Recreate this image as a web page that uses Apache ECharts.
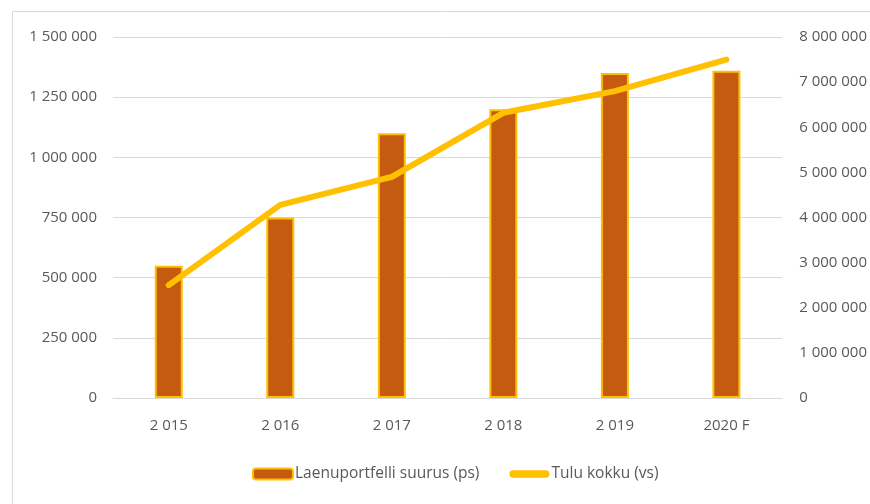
<!DOCTYPE html>
<html>
<head>
<meta charset="utf-8">
<script src="https://cdn.jsdelivr.net/npm/echarts@6/dist/echarts.min.js"></script>
<style>
  html, body { margin: 0; padding: 0; background: #fff; }
  #chart { width: 870px; height: 504px; }
</style>
</head>
<body>
<div id="chart"></div>
<script>
const years = ['2 015', '2 016', '2 017', '2 018', '2 019', '2020 F'];
const portfolio = [550000, 750000, 1100000, 1200000, 1350000, 1360000];
const income = [2500000, 4280000, 4900000, 6320000, 6800000, 7500000];

const fmt = v => String(v).replace(/\B(?=(\d{3})+(?!\d))/g, ' ');
const font = 'Open Sans, Noto Sans, sans-serif';

const chart = echarts.init(document.getElementById('chart'));
chart.setOption({
    animation: false,
    textStyle: {fontFamily: font},
    graphic: [{
        type: 'rect',
        shape: {x: 12.5, y: 11.5, width: 900, height: 600},
        style: {fill: 'none', stroke: '#d9d9d9', lineWidth: 1}
    }],
    grid: {left: 113, right: 87, top: 37, bottom: 106},
    legend: {
        left: 247,
        bottom: 17,
        itemGap: 30,
        itemWidth: 40,
        itemHeight: 11,
        textStyle: {color: '#595959', fontSize: 15.5, fontFamily: font, padding: [0, 0, 0, -3]},
        data: [
            {name: 'Laenuportfelli suurus (ps)'},
            {
                name: 'Tulu kokku (vs)',
                icon: 'path://M4,0 L40,0 A4,4 0 0 1 40,8 L4,8 A4,4 0 0 1 4,0 Z',
                itemStyle: {borderWidth: 0}
            }
        ]
    },
    xAxis: {
        type: 'category',
        data: years,
        axisLine: {lineStyle: {color: '#d9d9d9', width: 1}},
        axisTick: {show: false},
        axisLabel: {color: '#595959', fontSize: 15, margin: 20}
    },
    yAxis: [{
        type: 'value',
        min: 0, max: 1500000, interval: 250000,
        axisLabel: {color: '#595959', fontSize: 15, margin: 16, formatter: fmt},
        splitLine: {lineStyle: {color: '#d9d9d9', width: 1}}
    }, {
        type: 'value',
        min: 0, max: 8000000, interval: 1000000,
        axisLabel: {color: '#595959', fontSize: 15, margin: 17, formatter: fmt},
        splitLine: {show: false}
    }],
    series: [{
        name: 'Laenuportfelli suurus (ps)',
        type: 'bar',
        data: portfolio,
        barWidth: 28,
        itemStyle: {color: '#C55A11', borderColor: '#FFC000', borderWidth: 2}
    }, {
        name: 'Tulu kokku (vs)',
        type: 'line',
        yAxisIndex: 1,
        data: income,
        symbol: 'none',
        lineStyle: {color: '#FFC000', width: 6, cap: 'round', join: 'round'},
        itemStyle: {color: '#FFC000'}
    }]
});
</script>
</body>
</html>
